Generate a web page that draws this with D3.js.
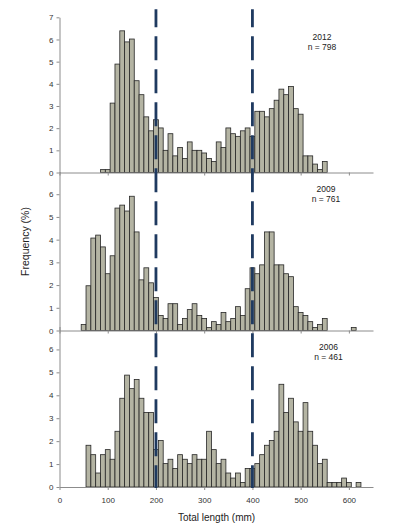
<!DOCTYPE html>
<html>
<head>
<meta charset="utf-8">
<script src="https://cdn.jsdelivr.net/npm/d3@7"></script>
<style>
	html, body { margin: 0; padding: 0; background: #fff; }
	svg { display: block; font-family: "Liberation Sans", Arial, sans-serif; }
</style>
</head>
<body>
<div id="chart"></div>
<script>
// Length-frequency histograms, three survey years stacked (D3 v7)

const width = 394;
const height = 531;

// bin centres (mm), 10 mm bins
const binCenters = [50, 60, 70, 80, 90, 100, 110, 120, 130, 140, 150, 160, 170, 180, 190,
	200, 210, 220, 230, 240, 250, 260, 270, 280, 290, 300, 310, 320, 330, 340, 350, 360,
	370, 380, 390, 400, 410, 420, 430, 440, 450, 460, 470, 480, 490, 500, 510, 520, 530,
	540, 550, 560, 570, 580, 590, 600, 610, 620];

// frequency (%) per bin
const freq2012 = [0, 0, 0, 0, 0.13, 0.13, 3.13, 4.89, 6.39, 5.89, 6.02, 4.14, 3.51, 2.51, 1.88,
	2.38, 2.01, 1.00, 1.75, 0.75, 1.13, 0.63, 1.38, 1.00, 1.00, 0.88, 0.63, 0.50, 1.38, 1.13, 2.01, 1.75,
	1.63, 1.88, 2.01, 1.63, 2.76, 2.76, 2.51, 2.88, 3.26, 3.76, 3.51, 3.88, 2.88, 2.63, 0.75, 0.75, 0.38,
	0.13, 0.50, 0, 0, 0, 0, 0, 0, 0];

const freq2009 = [0.26, 1.97, 4.07, 4.20, 3.68, 2.50, 3.29, 5.39, 5.52, 5.26, 5.91, 4.34, 2.23, 2.76, 2.10,
	1.45, 0.66, 0.53, 1.18, 1.18, 0.26, 0.53, 0.92, 1.18, 0.66, 0.53, 0.13, 0.39, 0.26, 0.79, 0.39, 0.53,
	1.05, 0.66, 1.84, 2.76, 2.50, 2.89, 4.34, 4.34, 2.89, 2.89, 2.50, 2.37, 1.05, 0.79, 0.66, 0.39, 0.13,
	0.26, 0.53, 0, 0, 0, 0, 0, 0.13, 0];

const freq2006 = [0, 1.82, 1.41, 0.61, 1.41, 1.63, 1.21, 2.43, 3.87, 4.88, 4.29, 4.69, 3.87, 3.25, 3.25,
	1.63, 2.03, 1.02, 1.21, 0.81, 1.41, 1.21, 1.02, 1.41, 1.21, 1.21, 2.43, 1.63, 1.02, 1.21, 0.61, 0.39,
	0.61, 0.20, 0.81, 0.81, 1.02, 1.41, 1.82, 2.03, 2.43, 4.48, 3.25, 3.87, 2.84, 2.43, 3.68, 2.43, 1.82,
	1.02, 1.21, 0.20, 0.20, 0.20, 0.39, 0.20, 0, 0.20];

const years = ['2012', '2009', '2006'];
const sampleSizes = [798, 761, 461];
const xTicks = [0, 100, 200, 300, 400, 500, 600];
const cutoffs = [200, 400];

const seriesByYear = [freq2012, freq2009, freq2006];

// plot geometry, top to bottom
const panels = [
	{ bottom: 172.5, top: 17.3 },
	{ bottom: 330.5, top: 171.5 },
	{ bottom: 487, top: 326.5 }
];

const svg = d3.select('#chart')
	.append('svg')
	.attr('width', width)
	.attr('height', height)
	.attr('viewBox', `0 0 ${width} ${height}`);

const x = d3.scaleLinear()
	.domain([0, 650])
	.range([59.5, 373]);

const binHalf = 5;

panels.forEach((p, i) => {
	const y = d3.scaleLinear().domain([0, 7]).range([p.bottom, p.top]);
	const g = svg.append('g').attr('class', 'panel');

	const bins = binCenters
		.map((c, j) => ({ center: c, value: seriesByYear[i][j] }))
		.filter(d => d.value > 0);

	g.selectAll('rect')
		.data(bins)
		.enter()
		.append('rect')
		.attr('x', d => x(d.center - binHalf))
		.attr('y', d => y(d.value))
		.attr('width', d => x(d.center + binHalf) - x(d.center - binHalf))
		.attr('height', d => y(0) - y(d.value))
		.attr('fill', '#b4b4a3')
		.attr('stroke', '#262626')
		.attr('stroke-width', 0.8);

	// y axis
	const yTicks = i === 0 ? d3.range(0, 8) : d3.range(0, 7);
	const yAxis = g.append('g')
		.attr('transform', `translate(${x(0)},0)`)
		.call(d3.axisLeft(y).tickValues(yTicks).tickFormat(d3.format('d'))
			.tickSize(3).tickSizeOuter(0).tickPadding(3));

	// x axis
	const xAxis = g.append('g')
		.attr('transform', `translate(0,${p.bottom})`)
		.call(d3.axisBottom(x).tickValues(xTicks).tickSize(3).tickSizeOuter(0).tickPadding(7)
			.tickFormat(i === 2 ? d3.format('d') : () => ''));

	[yAxis, xAxis].forEach(a => {
		a.select('.domain').attr('stroke', '#8c8c8c');
		a.selectAll('.tick line').attr('stroke', '#8c8c8c');
		a.selectAll('.tick text')
			.attr('fill', '#333')
			.style('font-size', '8px');
	});

	// year and sample size
	const label = g.append('text')
		.attr('text-anchor', 'middle')
		.attr('fill', '#222')
		.style('font-size', '8.5px');
	const lx = [322, 326, 328.5][i];
	const ly = [40, 192, 350][i];
	label.append('tspan').attr('x', lx).attr('y', ly).text(years[i]);
	label.append('tspan').attr('x', lx).attr('y', ly + 9.5).text(`n = ${sampleSizes[i]}`);
});

// size-class cutoffs
svg.selectAll('.cutoff')
	.data(cutoffs)
	.enter()
	.append('line')
	.attr('class', 'cutoff')
	.attr('x1', d => x(d))
	.attr('x2', d => x(d))
	.attr('y1', 9.3)
	.attr('y2', 488)
	.attr('stroke', '#1f3a60')
	.attr('stroke-width', 2.8)
	.attr('stroke-dasharray', '24,9')
	.attr('stroke-dashoffset', 6);

// axis titles
svg.append('text')
	.attr('x', 216.5)
	.attr('y', 521)
	.attr('text-anchor', 'middle')
	.attr('fill', '#222')
	.style('font-size', '10px')
	.text('Total length (mm)');

svg.append('text')
	.attr('transform', 'translate(28.5,241.5) rotate(-90)')
	.attr('text-anchor', 'middle')
	.attr('fill', '#222')
	.style('font-size', '10.5px')
	.text('Frequency (%)');
</script>
</body>
</html>
